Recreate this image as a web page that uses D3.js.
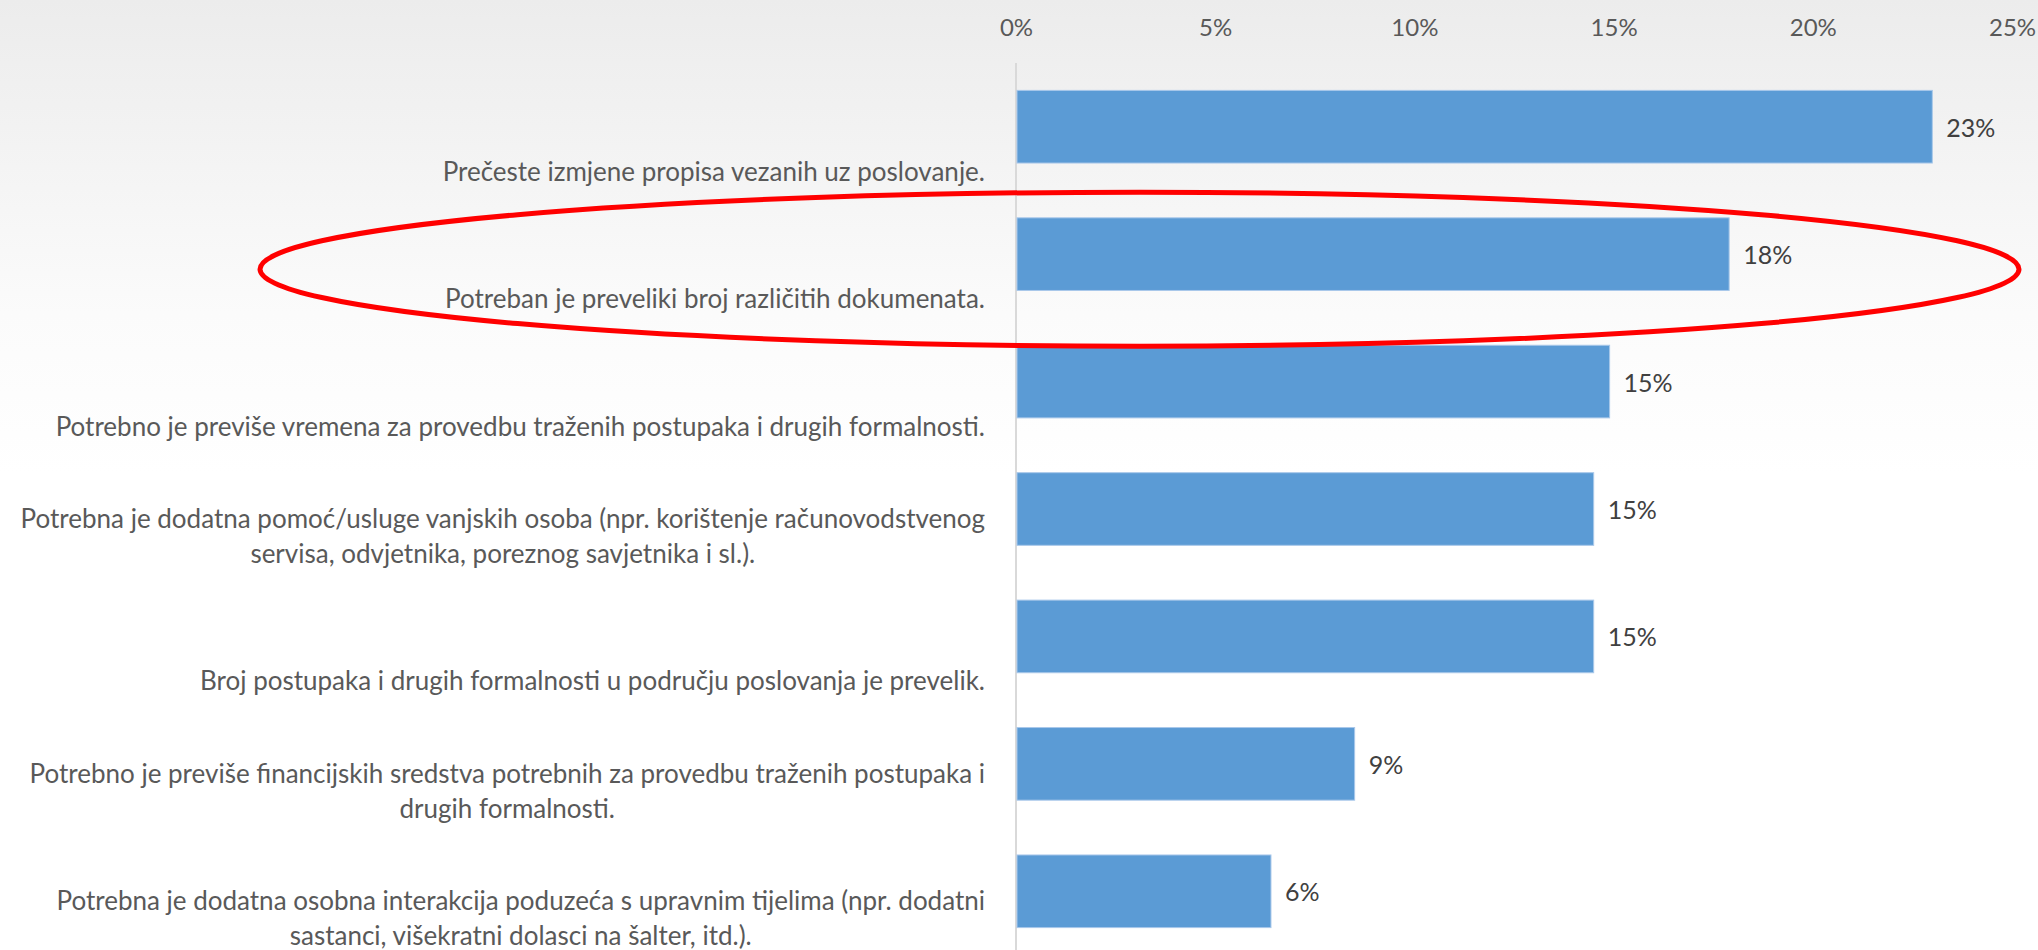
<!DOCTYPE html>
<html>
<head>
<meta charset="utf-8">
<script src="https://cdn.jsdelivr.net/npm/d3@7"></script>
<style>
  html, body { margin: 0; padding: 0; background: #fff; overflow: hidden; }
  svg { display: block; }
</style>
</head>
<body>
<svg id="chart" width="2038" height="950"></svg>
<script>
// ---- data ----
const categories = [
  ["Prečeste izmjene propisa vezanih uz poslovanje."],
  ["Potreban je preveliki broj različitih dokumenata."],
  ["Potrebno je previše vremena za provedbu traženih postupaka i drugih formalnosti."],
  ["Potrebna je dodatna pomoć/usluge vanjskih osoba (npr. korištenje računovodstvenog", "servisa, odvjetnika, poreznog savjetnika i sl.)."],
  ["Broj postupaka i drugih formalnosti u području poslovanja je prevelik."],
  ["Potrebno je previše financijskih sredstva potrebnih za provedbu traženih postupaka i", "drugih formalnosti."],
  ["Potrebna je dodatna osobna interakcija poduzeća s upravnim tijelima (npr. dodatni", "sastanci, višekratni dolasci na šalter, itd.)."]
];
const values = [0.23, 0.179, 0.149, 0.145, 0.145, 0.085, 0.064];
const valueLabels = ["23%", "18%", "15%", "15%", "15%", "9%", "6%"];
const tickValues = [0, 0.05, 0.10, 0.15, 0.20, 0.25];
const tickLabels = ["0%", "5%", "10%", "15%", "20%", "25%"];
const highlightIndex = 1;

// ---- layout ----
const W = 2038, H = 950;
const FONT = "Lato, sans-serif";
const svg = d3.select("#chart");

const defs = svg.append("defs");
const grad = defs.append("linearGradient").attr("id", "bg").attr("x1", 0).attr("y1", 0).attr("x2", 0).attr("y2", 1);
grad.append("stop").attr("offset", "0").attr("stop-color", "#ececec");
grad.append("stop").attr("offset", "0.33").attr("stop-color", "#fbfbfb");
grad.append("stop").attr("offset", "0.5").attr("stop-color", "#ffffff");
grad.append("stop").attr("offset", "1").attr("stop-color", "#ffffff");
svg.append("rect").attr("width", W).attr("height", H).attr("fill", "url(#bg)");

const ids = categories.map((c, i) => i);
const x = d3.scaleLinear().domain([0, 0.25]).range([1016, 2012]);
const y = d3.scaleBand().domain(ids).range([63, 955]).paddingInner(0.43).paddingOuter(0.215);

// top axis
const axis = svg.append("g")
  .call(d3.axisTop(x).tickValues(tickValues).tickFormat((d, i) => tickLabels[i]).tickSize(0));
axis.select(".domain").remove();
axis.selectAll("text")
  .attr("y", 26).attr("dy", null)
  .attr("dominant-baseline", "central")
  .attr("fill", "#595959")
  .style("font-family", FONT).style("font-size", "24px");

// vertical axis line
svg.append("line")
  .attr("x1", x(0)).attr("x2", x(0))
  .attr("y1", 63).attr("y2", H)
  .attr("stroke", "#d9d9d9").attr("stroke-width", 2);

// bars
svg.append("g").selectAll("rect").data(values).join("rect")
  .attr("x", x(0) + 1)
  .attr("y", (d, i) => y(i))
  .attr("width", d => x(d) - x(0) - 1)
  .attr("height", y.bandwidth())
  .attr("fill", "#5b9bd5")
  .attr("stroke", "#a9c8ea").attr("stroke-width", 1);

// data labels
svg.append("g").selectAll("text").data(values).join("text")
  .attr("x", d => x(d) + 14)
  .attr("y", (d, i) => y(i) + y.bandwidth() / 2)
  .attr("dominant-baseline", "central")
  .attr("fill", "#404040")
  .style("font-family", FONT).style("font-size", "25px")
  .text((d, i) => valueLabels[i]);

// category labels (right-aligned block, lines centred)
const labelRight = 985, lineH = 35;
const lg = svg.append("g");
categories.forEach((lines, i) => {
  const cy = y(i) + y.bandwidth() / 2 + 44;
  const g = lg.append("g");
  const texts = lines.map((ln, k) => g.append("text")
    .attr("y", cy - (lines.length - 1 - k) * lineH)
    .attr("dominant-baseline", "central")
    .attr("fill", "#595959")
    .style("font-family", FONT).style("font-size", "26px")
    .text(ln));
  const maxW = d3.max(texts, t => t.node().getComputedTextLength());
  texts.forEach(t => t.attr("x", labelRight - maxW / 2).attr("text-anchor", "middle"));
});

// highlight ellipse around the second category
const hy = y(highlightIndex) + y.bandwidth() / 2 + 15;
svg.append("ellipse")
  .attr("cx", (260 + 2019) / 2).attr("cy", hy)
  .attr("rx", (2019 - 260) / 2).attr("ry", 77)
  .attr("fill", "none").attr("stroke", "#ff0000").attr("stroke-width", 5);
</script>
</body>
</html>
